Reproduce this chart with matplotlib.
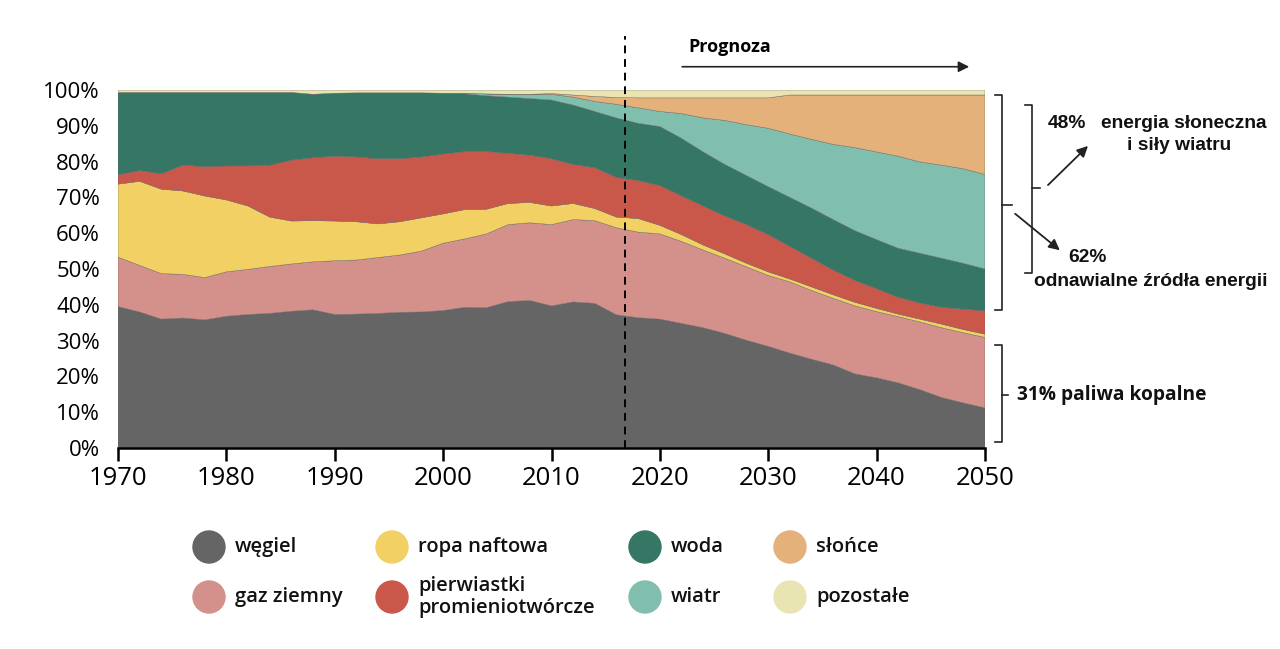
import matplotlib
matplotlib.use("Agg")
import matplotlib.pyplot as plt
from matplotlib.patches import Circle

# --- data (share of electricity generation, %) ---
years = list(range(1970, 2051, 2))

coal = [39.5, 38.0, 36.0, 36.3, 35.8, 36.8, 37.3, 37.6, 38.2, 38.6, 37.3, 37.4, 37.6, 37.9,
        38.0, 38.4, 39.3, 39.2, 40.9, 41.2, 39.7, 40.8, 40.4, 37.2, 36.4, 36.0, 34.8, 33.6,
        32.0, 30.1, 28.4, 26.5, 24.8, 23.2, 20.7, 19.6, 18.2, 16.3, 14.1, 12.6, 11.2]
gas = [13.8, 13.0, 12.7, 12.2, 11.8, 12.4, 12.6, 13.1, 13.2, 13.4, 15.0, 15.1, 15.6, 16.0,
       17.0, 18.8, 19.1, 20.6, 21.5, 21.7, 22.7, 23.0, 23.1, 24.3, 23.9, 23.8, 22.9, 21.7,
       21.0, 20.5, 19.8, 19.9, 19.2, 18.6, 19.0, 18.5, 18.5, 18.9, 19.5, 19.6, 19.7]
oil = [20.4, 23.5, 23.6, 23.3, 22.8, 20.1, 17.7, 13.8, 12.0, 11.5, 11.1, 10.7, 9.4, 9.3,
       9.3, 8.2, 8.2, 6.9, 5.9, 5.7, 5.2, 4.5, 3.4, 3.0, 3.8, 2.4, 1.9, 1.4,
       1.2, 1.0, 1.0, 0.8, 1.0, 1.0, 1.0, 0.9, 0.7, 0.8, 1.0, 0.9, 0.9]
nuclear = [2.6, 3.0, 4.3, 7.2, 8.2, 9.5, 11.2, 14.5, 17.0, 17.6, 18.1, 18.1, 18.2, 17.6,
           17.0, 16.7, 16.2, 16.1, 14.0, 13.2, 13.2, 10.9, 11.4, 11.1, 10.6, 11.1, 10.8, 10.9,
           10.6, 10.8, 10.4, 9.1, 8.0, 6.9, 6.1, 5.5, 4.7, 4.5, 4.7, 5.7, 6.5]
hydro = [23.0, 21.8, 22.7, 20.3, 20.7, 20.5, 20.5, 20.3, 18.9, 17.7, 17.6, 17.9, 18.4, 18.4,
         17.9, 17.0, 16.1, 15.6, 15.7, 15.8, 16.4, 16.6, 15.7, 16.6, 16.0, 16.5, 16.1, 15.1,
         14.4, 13.7, 13.4, 13.7, 14.0, 14.1, 13.9, 13.7, 13.7, 13.9, 13.7, 12.8, 11.7]
wind = [0, 0, 0, 0, 0, 0, 0, 0, 0, 0, 0, 0, 0, 0,
        0, 0, 0.2, 0.5, 0.8, 1.2, 1.6, 2.2, 2.8, 3.8, 4.3, 4.2, 6.9, 9.5,
        12.3, 14.2, 16.3, 17.7, 19.2, 21.0, 23.2, 24.5, 25.7, 25.5, 26.0, 26.4, 26.4]
solar = [0, 0, 0, 0, 0, 0, 0, 0, 0, 0, 0, 0, 0, 0,
         0, 0, 0, 0, 0, 0, 0.2, 0.6, 1.4, 1.9, 2.8, 3.8, 4.4, 5.6,
         6.3, 7.5, 8.5, 10.9, 12.4, 13.8, 14.7, 15.9, 17.1, 18.7, 19.6, 20.6, 22.2]
other = [0.7, 0.7, 0.7, 0.7, 0.7, 0.7, 0.7, 0.7, 0.7, 1.2, 0.9, 0.8, 0.8, 0.8,
         0.8, 0.9, 0.9, 1.1, 1.2, 1.2, 1.0, 1.4, 1.8, 2.1, 2.2, 2.2, 2.2, 2.2,
         2.2, 2.2, 2.2, 1.4, 1.4, 1.4, 1.4, 1.4, 1.4, 1.4, 1.4, 1.4, 1.4]

series = [coal, gas, oil, nuclear, hydro, wind, solar, other]
labels = ["węgiel", "gaz ziemny", "ropa naftowa", "pierwiastki\npromieniotwórcze",
          "woda", "wiatr", "słońce", "pozostałe"]
colors = ["#656565", "#d4908a", "#f2d064", "#c9584a", "#357664", "#80bfae", "#e3b179", "#e8e5b3"]

forecast_start = 2016.8
xticks = [1970, 1980, 1990, 2000, 2010, 2020, 2030, 2040, 2050]
yticks = list(range(0, 101, 10))

fig = plt.figure(figsize=(12.8, 6.49), dpi=100)
ax = fig.add_axes([118 / 1280, 201 / 649, 867 / 1280, 358 / 649])

ax.stackplot(years, *series, colors=colors, linewidth=0.3, edgecolors=colors)
ax.set_xlim(1970, 2050)
ax.set_ylim(0, 100)

ax.set_xticks(xticks)
ax.set_yticks(yticks)
ax.set_yticklabels([f"{v}%" for v in yticks], family="Open Sans", fontsize=16)
ax.set_xticklabels([str(v) for v in xticks], family="Open Sans", fontsize=18.5)
ax.tick_params(axis="y", length=0, pad=13)
ax.tick_params(axis="x", length=9, width=1.8, direction="out", pad=4)
for s in ["top", "right", "left"]:
    ax.spines[s].set_visible(False)
ax.spines["bottom"].set_linewidth(1.8)

# forecast marker
ax.plot([forecast_start, forecast_start], [0, 115], ls=(0, (4, 3)), color="black",
        lw=1.4, clip_on=False)
ax.annotate("", xy=(2048.8, 106.5), xytext=(2021.8, 106.5), annotation_clip=False,
            arrowprops=dict(arrowstyle="-|>", color="#222222", lw=1.2, mutation_scale=16))
ax.text(2022.6, 112, "Prognoza", family="Open Sans", fontweight="bold", fontsize=13,
        va="center", ha="left", clip_on=False)

# overlay in pixel coordinates for brackets and legend
ov = fig.add_axes([0, 0, 1, 1])
ov.set_xlim(0, 1280)
ov.set_ylim(649, 0)
ov.axis("off")
ov.patch.set_alpha(0)

def bracket(x, y0, y1, ym, tick_in=7, tick_out=10):
    ov.plot([x - tick_in, x, x, x - tick_in], [y0, y0, y1, y1], color="#222222", lw=1.2)
    ov.plot([x, x + tick_out], [ym, ym], color="#222222", lw=1.2)

bracket(1002, 95, 310, 205)
bracket(1032, 105, 273, 188, tick_out=8)
bracket(1002, 345, 442, 395, tick_out=6)

arrow_kw = dict(arrowstyle="-|>", color="#222222", lw=1.3, mutation_scale=16)
ov.annotate("", xy=(1090, 144), xytext=(1046, 187), arrowprops=arrow_kw)
ov.annotate("", xy=(1062, 252), xytext=(1013, 212), arrowprops=arrow_kw)

afont = dict(family="Liberation Sans", fontweight="bold", fontsize=13.8, color="#111111")
ov.text(1048, 123, "48%", va="center", ha="left", **afont)
ov.text(1184, 123, "energia słoneczna", va="center", ha="center", **afont)
ov.text(1179, 146, "i siły wiatru", va="center", ha="center", **afont)
ov.text(1068, 257, "62%", va="center", ha="left", **afont)
ov.text(1151, 282, "odnawialne źródła energii", va="center", ha="center", **afont)
ov.text(1017, 395, "31% paliwa kopalne", va="center", ha="left", family="Open Sans",
        fontweight="bold", fontsize=13.8, color="#111111")

# legend
col_x = [209, 392, 645, 790]
row_y = [547, 597]
for i, (lab, col) in enumerate(zip(labels, colors)):
    cx = col_x[i // 2]
    cy = row_y[i % 2]
    ov.add_patch(Circle((cx, cy), 16, color=col))
    ov.text(cx + 26, cy, lab, va="center", ha="left", family="Open Sans",
            fontweight="semibold", fontsize=14.5, color="#111111", linespacing=1.2)

fig.savefig("out.png", dpi=100)
